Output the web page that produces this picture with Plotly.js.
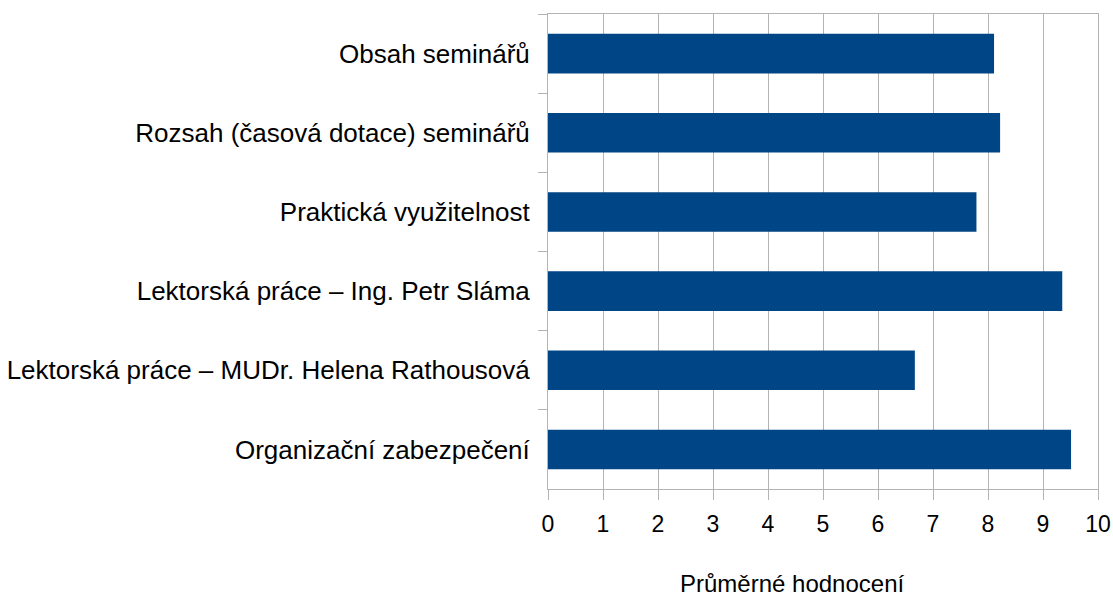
<!DOCTYPE html>
<html>
<head>
<meta charset="utf-8">
<script src="https://cdn.plot.ly/plotly-3.0.1.min.js"></script>
<style>html,body{margin:0;padding:0;background:#fff;}#chart{width:1113px;height:597px;}</style>
</head>
<body>
<div id="chart"></div>
<script>
const categories = [
  "Obsah seminářů",
  "Rozsah (časová dotace) seminářů",
  "Praktická využitelnost",
  "Lektorská práce – Ing. Petr Sláma",
  "Lektorská práce – MUDr. Helena Rathousová",
  "Organizační zabezpečení"
];
const values = [8.11, 8.22, 7.79, 9.35, 6.67, 9.51];
const xTickVals = [0,1,2,3,4,5,6,7,8,9,10];
const xTitle = "Průměrné hodnocení";

const trace = {
  type: "bar",
  orientation: "h",
  x: values,
  y: categories,
  marker: {color: "#004586", line: {width: 0}},
  hoverinfo: "x+y"
};

const layout = {
  width: 1113,
  height: 597,
  margin: {l: 548, r: 15, t: 14, b: 108},
  paper_bgcolor: "#ffffff",
  plot_bgcolor: "#ffffff",
  showlegend: false,
  bargap: 0.5,
  font: {family: "Liberation Sans, Arial, sans-serif", color: "#000000", size: 24},
  xaxis: {
    range: [0, 10],
    tickvals: xTickVals,
    ticktext: xTickVals.map(String),
    showgrid: true,
    gridcolor: "#b3b3b3",
    gridwidth: 1,
    zeroline: false,
    showline: true,
    linecolor: "#b3b3b3",
    linewidth: 1,
    mirror: true,
    ticks: "outside",
    ticklen: 10,
    tickcolor: "#b3b3b3",
    tickfont: {size: 23, color: "#000000"},
    ticklabelstandoff: 4,
    fixedrange: true
  },
  yaxis: {
    type: "category",
    autorange: "reversed",
    showgrid: false,
    zeroline: false,
    showline: true,
    linecolor: "#b3b3b3",
    linewidth: 1,
    mirror: true,
    ticks: "outside",
    tickson: "boundaries",
    ticklen: 9,
    tickcolor: "#b3b3b3",
    tickfont: {size: 26, color: "#000000"},
    ticklabelstandoff: 12,
    fixedrange: true
  },
  annotations: [{
    text: xTitle,
    xref: "paper", yref: "paper",
    x: 0.4436, y: -0.198,
    xanchor: "center", yanchor: "middle",
    showarrow: false,
    font: {size: 24, color: "#000000"}
  }]
};

Plotly.newPlot("chart", [trace], layout, {displayModeBar: false, staticPlot: true});
</script>
</body>
</html>
